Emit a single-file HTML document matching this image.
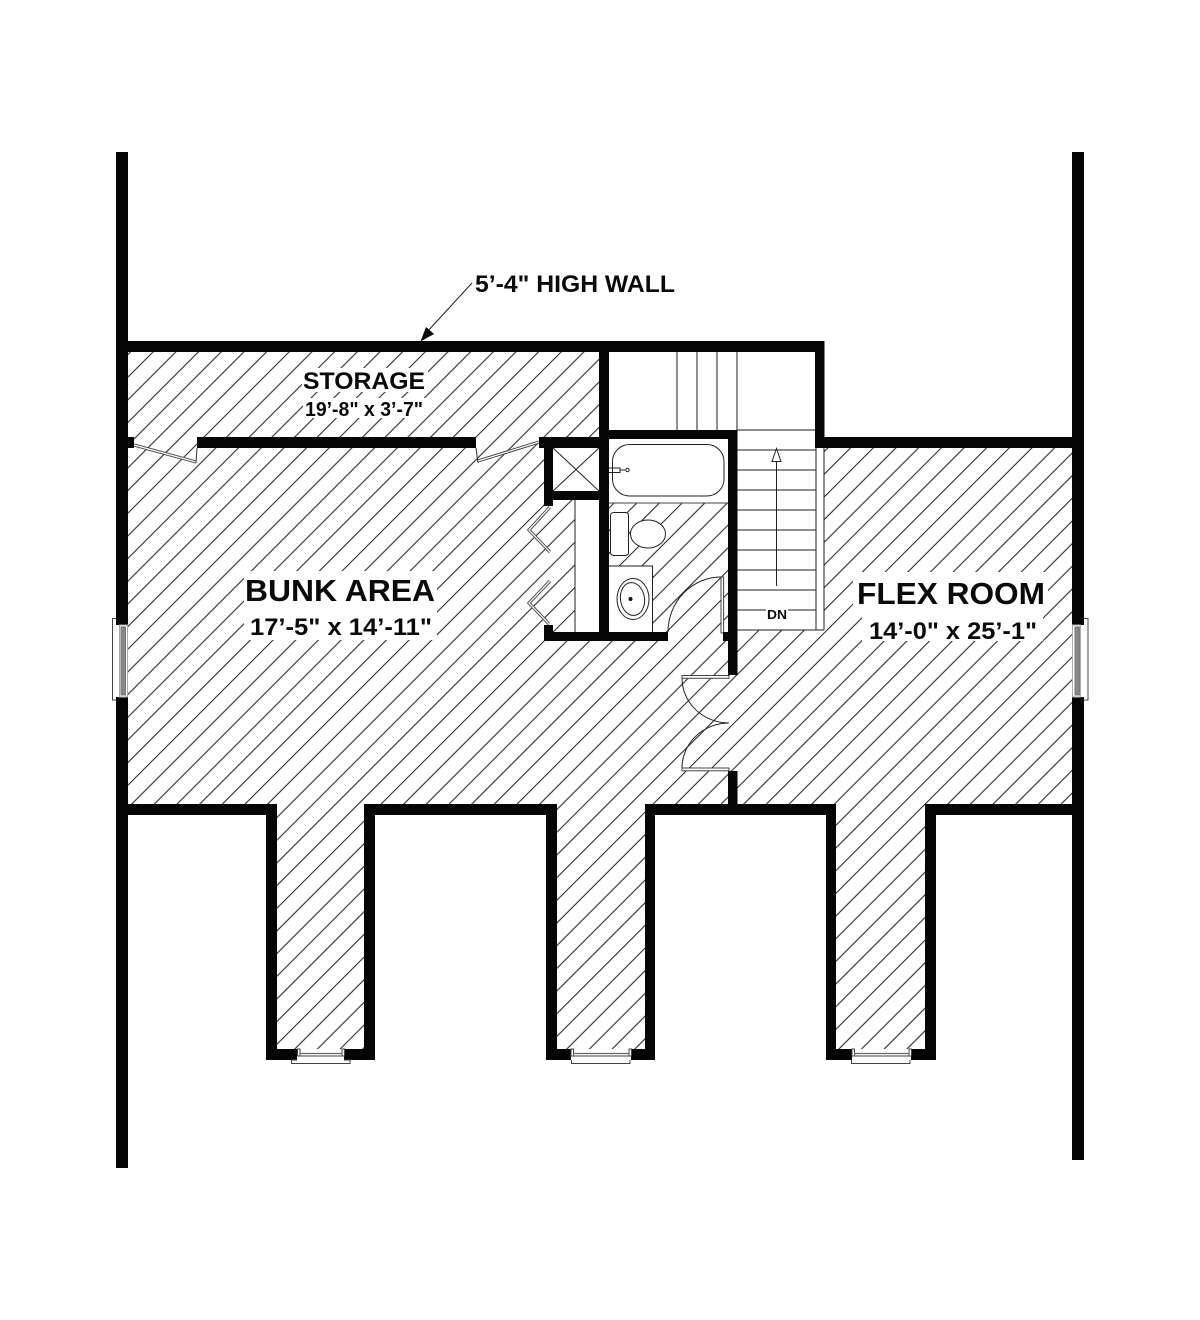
<!DOCTYPE html>
<html>
<head>
<meta charset="utf-8">
<style>
html,body{margin:0;padding:0;background:#fff;}
svg{display:block;}
text{font-family:"Liberation Sans",sans-serif;font-weight:bold;fill:#0a0a0a;}
</style>
</head>
<body>
<svg width="1200" height="1320" viewBox="0 0 1200 1320" xmlns="http://www.w3.org/2000/svg">
<defs>
<pattern id="h" patternUnits="userSpaceOnUse" width="16.03" height="16.03" patternTransform="rotate(45)">
<line x1="4.44" y1="0" x2="4.44" y2="16.03" stroke="#2e2e2e" stroke-width="1.1"/>
</pattern>
</defs>
<rect width="1200" height="1320" fill="#fff"/>

<!-- hatch -->
<polygon fill="url(#h)" points="128,352 600,352 600,440 824,440 824,448 1072,448 1072,805 925,805 925,1049 836,1049 836,805 645,805 645,1049 557,1049 557,805 364,805 364,1049 277,1049 277,805 128,805"/>

<!-- text masks -->
<rect x="302" y="368" width="126" height="24" fill="#fff"/>
<rect x="303" y="398" width="122" height="20" fill="#fff"/>
<rect x="244" y="571" width="193" height="69" fill="#fff"/>
<rect x="853" y="572" width="195" height="38" fill="#fff"/>
<rect x="862" y="610" width="181" height="31" fill="#fff"/>

<!-- white rooms -->
<rect x="609" y="352" width="208" height="90" fill="#fff"/>
<rect x="737" y="430" width="87" height="200" fill="#fff"/>
<rect x="575" y="500" width="25" height="133" fill="#fff"/>
<rect x="553" y="448" width="47" height="44" fill="#fff"/>
<rect x="609" y="439" width="120" height="64" fill="#fff"/>
<rect x="609" y="566" width="44" height="67" fill="#fff"/>

<!-- stairs -->
<g stroke="#222" stroke-width="1" fill="none">
<path d="M677 352V430M697 352V430M717 352V430M737 352V430"/>
<path d="M737 430H816M737 450H816M737 470H816M737 490H816M737 510H816M737 530H816M737 550H816M737 570H816M737 590H816M737 630H824"/>
<path d="M737 610H766M788 610H816"/>
<path d="M816 448V630M824 448V630"/>
<path d="M776.5 586V462"/>
<path d="M776.5 448.5L772 461.5H781Z" fill="#fff"/>
</g>
<text x="767" y="619" font-size="12.5" textLength="20" lengthAdjust="spacingAndGlyphs">DN</text>

<!-- fixtures -->
<g stroke="#222" stroke-width="1" fill="#fff">
<line x1="609" y1="503" x2="728" y2="503" stroke="#444"/>
<rect x="612.5" y="444.5" width="111.5" height="51.5" rx="17" ry="17"/>
<path d="M609 468H620V472.5H609M620 470H625" fill="none"/>
<circle cx="627.5" cy="470" r="1.7"/>
<rect x="610.5" y="512.5" width="18" height="43" rx="3" ry="3"/>
<ellipse cx="648" cy="534" rx="17.5" ry="14"/>
<path d="M609 566H652.5V632"/>
<ellipse cx="633" cy="599" rx="16" ry="20.5"/>
<ellipse cx="632.5" cy="599" rx="12" ry="16.5" transform="rotate(-8 632.5 599)"/>
<line x1="575" y1="500" x2="575" y2="632"/>
<path d="M553 448L599 491M599 448L553 491" fill="none"/>
</g>
<circle cx="630.5" cy="599" r="2" fill="#111"/>

<!-- closet bifold doors -->
<g fill="none" stroke="#555" stroke-width="3.2">
<path d="M550 507L529 530L550 552"/>
<path d="M550 581L529 603L549 624"/>
</g>
<g fill="none" stroke="#fff" stroke-width="1.2">
<path d="M550 507L529 530L550 552"/>
<path d="M550 581L529 603L549 624"/>
</g>

<!-- storage doors -->
<g fill="none" stroke="#444" stroke-width="3.2">
<path d="M134 445L196 462"/>
<path d="M539 442L478 461"/>
</g>
<g fill="none" stroke="#fff" stroke-width="1.2">
<path d="M134 445L196 462"/>
<path d="M539 442L478 461"/>
</g>
<path d="M196 463L197 448M478 463L476 448" fill="none" stroke="#333" stroke-width="1"/>

<!-- bath door -->
<rect x="721" y="577" width="2.6" height="56" fill="#fff" stroke="#444" stroke-width="1"/>
<path d="M721 577A53 55 0 0 0 668 632" fill="none" stroke="#222" stroke-width="1"/>

<!-- double door -->
<rect x="682" y="675.5" width="47" height="2.8" fill="#fff" stroke="#444" stroke-width="1"/>
<rect x="682" y="768" width="47" height="2.8" fill="#fff" stroke="#444" stroke-width="1"/>
<path d="M682 678A47 45 0 0 0 729 723M682 768A47 45 0 0 1 729 723" fill="none" stroke="#222" stroke-width="1"/>

<!-- walls -->
<g fill="#050505">
<rect x="116" y="152" width="12" height="473"/>
<rect x="116" y="697" width="12" height="471"/>
<rect x="1072" y="152" width="12" height="473"/>
<rect x="1072" y="697" width="12" height="463"/>
<rect x="128" y="341" width="696" height="11"/>
<rect x="815" y="341" width="9.5" height="107"/>
<rect x="815" y="437" width="257" height="11"/>
<rect x="599" y="341" width="10" height="300"/>
<rect x="609" y="430" width="128" height="9"/>
<rect x="728" y="430" width="9.5" height="245"/>
<rect x="728" y="771" width="9.5" height="40"/>
<rect x="197" y="437" width="279" height="11"/>
<rect x="128" y="437" width="6" height="11"/>
<rect x="539" y="437" width="60" height="11"/>
<rect x="544" y="437" width="9" height="69"/>
<rect x="553" y="491" width="46" height="9"/>
<rect x="544" y="625" width="9" height="16"/>
<rect x="544" y="632" width="124" height="9"/>
<rect x="723" y="632" width="5" height="9"/>

<rect x="116" y="804" width="161" height="11"/>
<rect x="266" y="804" width="11" height="256"/>
<rect x="266" y="1049" width="31" height="11"/>
<rect x="344" y="1049" width="31" height="11"/>
<rect x="364" y="804" width="11" height="256"/>
<rect x="364" y="804" width="193" height="11"/>
<rect x="546" y="804" width="11" height="256"/>
<rect x="546" y="1049" width="25" height="11"/>
<rect x="631" y="1049" width="24" height="11"/>
<rect x="645" y="804" width="10" height="256"/>
<rect x="645" y="804" width="191" height="11"/>
<rect x="826" y="804" width="10" height="256"/>
<rect x="826" y="1049" width="26" height="11"/>
<rect x="911" y="1049" width="25" height="11"/>
<rect x="925" y="804" width="11" height="256"/>
<rect x="925" y="804" width="159" height="11"/>
</g>

<!-- side windows -->
<g fill="#fff" stroke="#444" stroke-width="1">
<path d="M116 618.5H112.5V700H116" fill="none"/>
<rect x="119.5" y="625" width="8" height="72" stroke="#aaa"/>
<rect x="121" y="627" width="4.5" height="68" fill="#888" stroke="#777"/>
<path d="M1084 618.5H1088V700H1084" fill="none"/>
<rect x="1072.5" y="625" width="8" height="72" stroke="#aaa"/>
<rect x="1075" y="627" width="4.5" height="68" fill="#888" stroke="#777"/>
</g>

<!-- bottom windows -->
<g fill="#fff" stroke="#444" stroke-width="1">
<rect x="297.5" y="1049" width="2.5" height="7"/>
<rect x="342" y="1049" width="2.5" height="7"/>
<path d="M300 1053.5H342M300 1056H342" fill="none" stroke="#666" stroke-width="1.2"/>
<path d="M291.5 1060V1063.5H350V1060M291.5 1060H297M344 1060H350" fill="none"/>
<rect x="571" y="1049" width="2.5" height="7"/>
<rect x="629" y="1049" width="2.5" height="7"/>
<path d="M573 1053.5H629M573 1056H629" fill="none" stroke="#666" stroke-width="1.2"/>
<path d="M571.5 1060V1063.5H630V1060" fill="none"/>
<rect x="852" y="1049" width="2.5" height="7"/>
<rect x="909" y="1049" width="2.5" height="7"/>
<path d="M854 1053.5H909M854 1056H909" fill="none" stroke="#666" stroke-width="1.2"/>
<path d="M851.5 1060V1063.5H910V1060" fill="none"/>
</g>

<!-- leader -->
<line x1="472" y1="283" x2="427" y2="332" stroke="#222" stroke-width="1"/>
<path d="M420.5 341.5L426 327L434 334Z" fill="#050505"/>

<!-- labels -->
<text x="475" y="292" font-size="24" textLength="200" lengthAdjust="spacingAndGlyphs">5’-4" HIGH WALL</text>
<text x="303" y="389" font-size="24" textLength="122" lengthAdjust="spacingAndGlyphs">STORAGE</text>
<text x="305" y="416" font-size="20" textLength="118" lengthAdjust="spacingAndGlyphs">19’-8" x 3’-7"</text>
<text x="245" y="601" font-size="31" textLength="190" lengthAdjust="spacingAndGlyphs">BUNK AREA</text>
<text x="250" y="635" font-size="24" textLength="182" lengthAdjust="spacingAndGlyphs">17’-5" x 14’-11"</text>
<text x="857" y="604" font-size="31" textLength="188" lengthAdjust="spacingAndGlyphs">FLEX ROOM</text>
<text x="869" y="639" font-size="24" textLength="168" lengthAdjust="spacingAndGlyphs">14’-0" x 25’-1"</text>
</svg>
</body>
</html>
